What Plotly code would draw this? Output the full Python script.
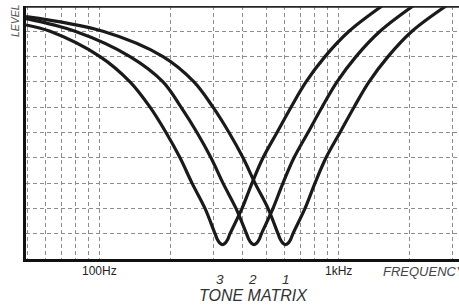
import math
import plotly.graph_objects as go

# ---- data ----
freq_3 = [49.5, 62.4, 101, 134.8, 163.5, 190.7, 218.3, 245.0, 277.7, 305.8, 313.2, 320.9,
          328.7, 336.7, 344.9, 353.3, 396.7, 436.8, 485.6, 555.6, 635.9, 734.8, 882.2, 1112, 1528]
level_3 = [9.25, 9, 8, 7, 6, 5, 4, 3, 2, 1, 0.76, 0.62,
           0.57, 0.62, 0.76, 1, 2, 3, 4, 5, 6, 7, 8, 9, 10]

freq_2 = [49.5, 79.4, 134.8, 185.3, 220.4, 257.0, 294.1, 330.2, 374.3, 414.2, 424.3, 434.6,
          445.2, 456.0, 467.1, 478.6, 534.6, 588.4, 654.3, 749.0, 857.1, 990.4, 1189, 1499, 2060]
level_2 = [9.5, 9, 8, 7, 6, 5, 4, 3, 2, 1, 0.76, 0.62,
           0.57, 0.62, 0.76, 1, 2, 3, 4, 5, 6, 7, 8, 9, 10]

freq_1 = [49.5, 103.9, 185.3, 249.7, 299.9, 349.9, 400.5, 449.5, 509.4, 561.0, 574.7, 588.8,
          603.0, 617.7, 632.8, 648.1, 727.7, 801.2, 890.8, 1019.5, 1166.7, 1348, 1619, 2040, 2831]
level_1 = [9.58, 9, 8, 7, 6, 5, 4, 3, 2, 1, 0.76, 0.62,
           0.57, 0.62, 0.76, 1, 2, 3, 4, 5, 6, 7, 8, 9, 10]

grid_freqs = [50, 60, 70, 80, 90, 100, 200, 300, 400, 500, 600, 700, 800, 900, 1000, 2000, 3000]
freq_tick_labels = {"100Hz": 100, "1kHz": 1000}
curve_names = ["3", "2", "1"]

# ---- figure ----
fig = go.Figure()
for f, l, n in [(freq_3, level_3, "3"), (freq_2, level_2, "2"), (freq_1, level_1, "1")]:
    fig.add_trace(go.Scatter(x=f, y=l, mode="lines", name=n,
                             line=dict(color="#1a1a1a", width=3.2, shape="spline", smoothing=1.0),
                             hoverinfo="skip", cliponaxis=True))

fig.update_layout(
    width=459, height=305,
    margin=dict(l=26, r=0, t=6, b=46),
    paper_bgcolor="white", plot_bgcolor="white",
    showlegend=False,
    font=dict(family="Liberation Sans, Arial, sans-serif"),
)
fig.update_xaxes(type="log", range=[1.69456, 3.50628],
                 tickvals=grid_freqs, showticklabels=False, ticks="",
                 showgrid=True, gridcolor="#8c8c8c", gridwidth=1, griddash="4px,3px",
                 showline=True, linecolor="#111", linewidth=3, zeroline=False)
fig.update_yaxes(range=[0, 10], dtick=1, tick0=0, showticklabels=False, ticks="",
                 showgrid=True, gridcolor="#8c8c8c", gridwidth=1, griddash="4px,3px",
                 showline=True, linecolor="#111", linewidth=3, zeroline=False)

# top border
fig.add_shape(type="line", xref="paper", yref="y", x0=0, x1=1, y0=10, y1=10,
              line=dict(color="#262626", width=3.5))

# frequency labels
for txt, fv in freq_tick_labels.items():
    fig.add_annotation(x=math.log10(fv), xref="x", y=-0.0494, yref="paper",
                       text=txt, showarrow=False, font=dict(size=12, color="#222"),
                       xanchor="center", yanchor="middle")
fig.add_annotation(x=0.8199, xref="paper", y=-0.0494, yref="paper", text="<i>FREQUENCY</i>",
                   showarrow=False, font=dict(size=13, color="#444"), xanchor="left", yanchor="middle")
fig.add_annotation(x=-0.0254, xref="paper", y=0.9407, yref="paper", text="<i>LEVEL</i>",
                   textangle=-90, showarrow=False, font=dict(size=10.5, color="#555"),
                   xanchor="center", yanchor="middle")
# curve number labels
for n, px in zip(curve_names, [220, 252.3, 286.3]):
    fig.add_annotation(x=(px - 26) / 433, xref="paper", y=-0.083, yref="paper", text="<i>%s</i>" % n,
                       showarrow=False, font=dict(size=13.5, color="#333"), xanchor="center", yanchor="middle")
fig.add_annotation(x=0.5254, xref="paper", y=-0.1443, yref="paper", text="<i>TONE MATRIX</i>",
                   showarrow=False, font=dict(size=16, color="#333"), xanchor="center", yanchor="middle")

fig.write_html("out.html", config={"displayModeBar": False},
               post_script="document.body.style.margin='0px';document.body.style.overflow='hidden';")
